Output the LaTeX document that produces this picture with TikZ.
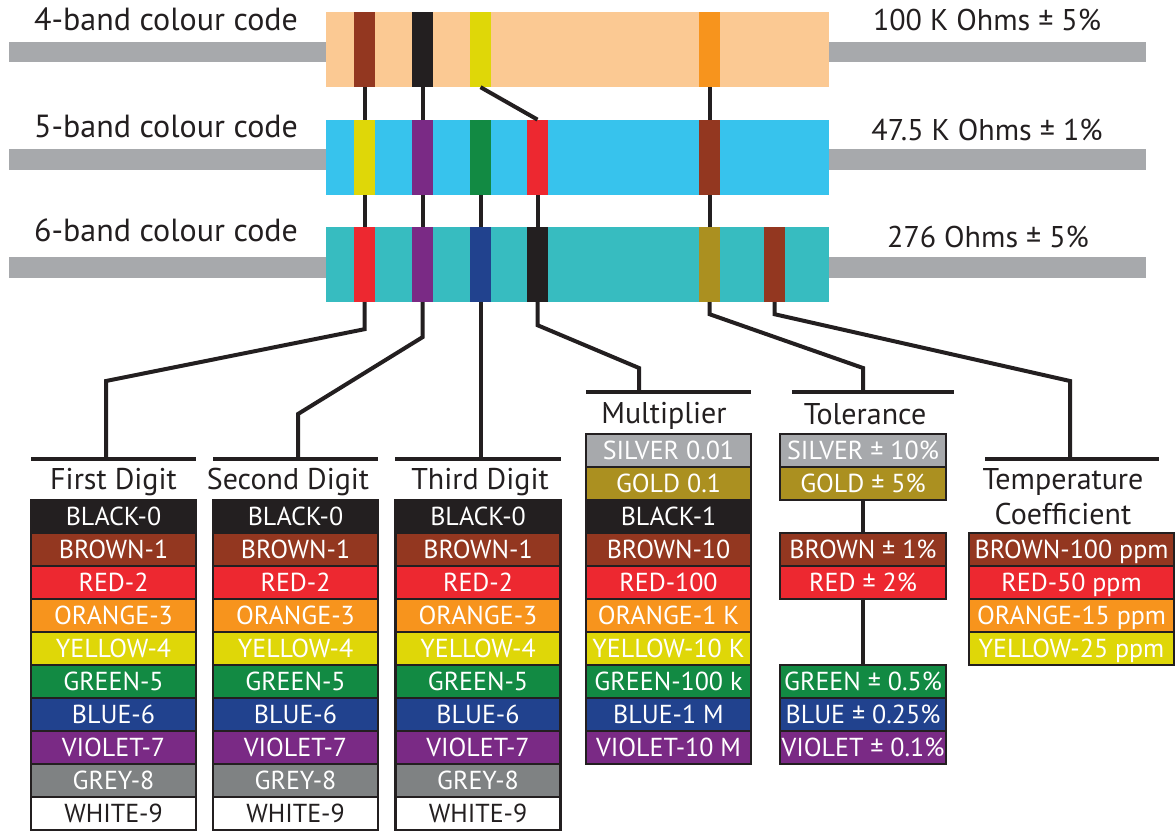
\documentclass[tikz,border=0pt]{standalone}
\usepackage{fontspec}
\setmainfont{PT Sans}
\usepackage{xcolor}
\definecolor{Ink}{HTML}{231F20}
\definecolor{ResBlack}{HTML}{231F20}
\definecolor{ResBrown}{HTML}{933720}
\definecolor{ResRed}{HTML}{ED2830}
\definecolor{ResOrange}{HTML}{F7941D}
\definecolor{ResYellow}{HTML}{DFD708}
\definecolor{ResGreen}{HTML}{128A43}
\definecolor{ResBlue}{HTML}{21428E}
\definecolor{ResViolet}{HTML}{7A2A85}
\definecolor{ResGrey}{HTML}{7F8283}
\definecolor{ResSilver}{HTML}{A7A9AC}
\definecolor{ResGold}{HTML}{AB9020}
\definecolor{Peach}{HTML}{FBC993}
\definecolor{Sky}{HTML}{37C3ED}
\definecolor{Teal}{HTML}{37BCC0}
\definecolor{LeadGrey}{HTML}{A7A9AC}
\usetikzlibrary{positioning}

\begin{document}
\begin{tikzpicture}[
  x=1pt, y=-1pt,
  body/.style={rectangle, fill=#1, minimum width=503pt, minimum height=75pt, inner sep=0pt},
  band/.style={rectangle, fill=#1, minimum width=21pt, minimum height=75pt, inner sep=0pt},
  wire/.style={draw=Ink, line width=4pt},
  bar/.style={rectangle, fill=Ink, minimum width=#1, minimum height=4.5pt, inner sep=0pt},
  ttl/.style={font=\fontsize{30}{35}\selectfont, text=Ink, inner sep=0pt, align=center},
  cell/.style={rectangle, draw=Ink, line width=2.5pt, fill=#1, minimum width=165pt,
    minimum height=33pt, inner sep=0pt, text height=18pt, text depth=0pt,
    font=\fontsize{26}{28}\selectfont},
]
\useasboundingbox (0,0) rectangle (1175,832);

%% -- Leads and bodies --------------------------------------------
\foreach \y in {42,149.5,257} {
  \fill[LeadGrey] (9,\y) rectangle (326,\y+20.5);
  \fill[LeadGrey] (829,\y) rectangle (1146,\y+20.5);
}
\node[body=Peach] (r4) at (577.5,49.5) {};
\node[body=Sky]   (r5) at (577.5,157.3) {};
\node[body=Teal]  (r6) at (577.5,264.5) {};

%% -- Bands --------------------------------------------
\foreach \n/\x/\c in {a/364.5/ResBrown, b/422.5/ResBlack, c/480.5/ResYellow, t/709.5/ResOrange}
  \node[band=\c] (b4\n) at (\x,49.5) {};
\foreach \n/\x/\c in {a/364.5/ResYellow, b/422.5/ResViolet, c/480.5/ResGreen, d/537.5/ResRed, t/709.5/ResBrown}
  \node[band=\c] (b5\n) at (\x,157.3) {};
\foreach \n/\x/\c in {a/364.5/ResRed, b/422.5/ResViolet, c/480.5/ResBlue, d/537.5/ResBlack, t/709.5/ResGold, m/774.5/ResBrown}
  \node[band=\c] (b6\n) at (\x,264.5) {};

%% -- Labels --------------------------------------------
\node[ttl, font=\fontsize{32}{34}\selectfont, anchor=base] (t4) at (166,31) {4-band colour code};
\node[ttl, font=\fontsize{32}{34}\selectfont, anchor=base] (t5) at (166,138) {5-band colour code};
\node[ttl, font=\fontsize{32}{34}\selectfont, anchor=base] (t6) at (166,241) {6-band colour code};
\node[ttl, anchor=base] (v4) at (987,31)  {100 K Ohms ± 5\%};
\node[ttl, anchor=base] (v5) at (987,140) {47.5 K Ohms ± 1\%};
\node[ttl, anchor=base] (v6) at (988,247) {276 Ohms ± 5\%};

%% -- Links between the resistors --------------------------------------------
\draw[wire] (b4a.south) -- (b5a.north);
\draw[wire] (b4b.south) -- (b5b.north);
\draw[wire] (b4c.south) -- (b5d.north);
\draw[wire] (b4t.south) -- (b5t.north);
\foreach \n in {a,b,c,d,t}
  \draw[wire] (b5\n.south) -- (b6\n.north);

%% -- Header bars and titles --------------------------------------------
\node[bar=165pt] (hd1) at (113.5,459) {};
\node[bar=165pt] (hd2) at (295.5,459) {};
\node[bar=166pt] (hd3) at (478,459) {};
\node[bar=165pt] (hd4) at (668.5,392) {};
\node[bar=162pt] (hd5) at (873,392) {};
\node[bar=174pt] (hd6) at (1072,459) {};

\node[ttl, anchor=base] (h1) at (113.5,489) {First Digit};
\node[ttl, anchor=base] (h2) at (288,489) {Second Digit};
\node[ttl, anchor=base] (h3) at (480,489) {Third Digit};
\node[ttl, anchor=base] (h4) at (664,423) {Multiplier};
\node[ttl, anchor=base] (h5) at (865,424) {Tolerance};
\node[ttl, anchor=base] (h6) at (1063,524) {Temperature\\Coefficient};

%% -- Connectors to the tables --------------------------------------------
\coordinate (k1) at (106,381);
\coordinate (k2) at (298,414);
\coordinate (k4) at (639,368);
\coordinate (k5) at (863,368);
\coordinate (k6) at (1070,381);
\draw[wire] (b6a.south) -- ++(0,27) -- (k1) -- (k1 |- hd1.center);
\draw[wire] (b6b.south) -- ++(0,35) -- (k2) -- (k2 |- hd2.center);
\draw[wire] (b6c.south) -- (b6c.south |- hd3.center);
\draw[wire] (b6d.south) -- ++(0,23) -- (k4) -- (k4 |- hd4.center);
\draw[wire] (b6t.south) -- ++(0,12) -- (k5) -- (k5 |- hd5.center);
\draw[wire] (b6m.south) -- ++(0,12) -- (k6) -- (k6 |- hd6.center);

%% -- Digit tables --------------------------------------------
\foreach \col/\xc in {1/113.5, 2/295.5, 3/478}
  \foreach \c/\tc/\t [count=\i from 0] in {ResBlack/white/BLACK-0, ResBrown/white/BROWN-1,
      ResRed/white/RED-2, ResOrange/white/ORANGE-3, ResYellow/white/YELLOW-4,
      ResGreen/white/GREEN-5, ResBlue/white/BLUE-6, ResViolet/white/VIOLET-7,
      ResGrey/white/GREY-8, white/Ink/WHITE-9}
    \node[cell=\c, text=\tc] (d\col-\i) at (\xc,516.5+33*\i) {\t};

%% -- Multiplier --------------------------------------------
\foreach \c/\t [count=\i from 0] in {ResSilver/SILVER 0.01, ResGold/GOLD 0.1, ResBlack/BLACK-1,
    ResBrown/BROWN-10, ResRed/RED-100, ResOrange/ORANGE-1 K, ResYellow/YELLOW-10 K,
    ResGreen/GREEN-100 k, ResBlue/BLUE-1 M, ResViolet/VIOLET-10 M}
  \node[cell=\c, text=white] (m-\i) at (668.5,450.5+33*\i) {\t};

%% -- Tolerance --------------------------------------------
\foreach \c/\t/\y [count=\i] in {ResSilver/SILVER ± 10\%/450.5, ResGold/GOLD ± 5\%/483.5,
    ResBrown/BROWN ± 1\%/549.5, ResRed/RED ± 2\%/582.5, ResGreen/GREEN ± 0.5\%/681.5,
    ResBlue/BLUE ± 0.25\%/714.5, ResViolet/VIOLET ± 0.1\%/747.5}
  \node[cell=\c, text=white, minimum width=166pt] (tol-\i) at (863,\y) {\t};
\draw[wire] (tol-2.south) -- (tol-3.north);
\draw[wire] (tol-4.south) -- (tol-5.north);

%% -- Temperature coefficient --------------------------------------------
\foreach \c/\t [count=\i from 0] in {ResBrown/BROWN-100 ppm, ResRed/RED-50 ppm,
    ResOrange/ORANGE-15 ppm, ResYellow/YELLOW-25 ppm}
  \node[cell=\c, text=white, minimum width=205pt] (tc-\i) at (1071.5,549.5+33*\i) {\t};

\end{tikzpicture}
\end{document}
